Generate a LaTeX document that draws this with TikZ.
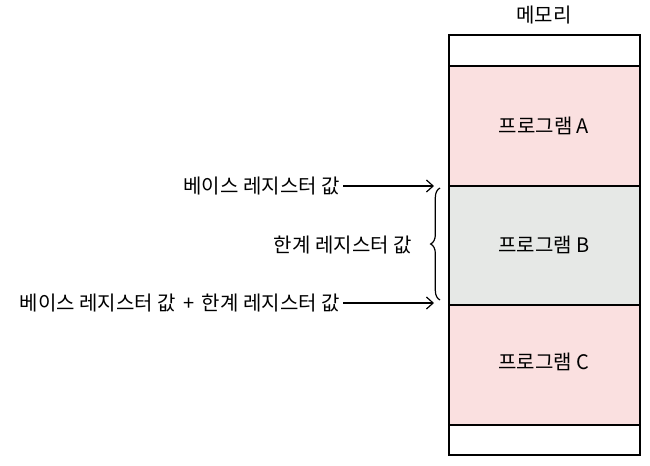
\documentclass[tikz,border=0pt]{standalone}
\usepackage{fontspec}
\setmainfont{Noto Sans CJK KR}
\usetikzlibrary{decorations.pathreplacing,arrows.meta}
\begin{document}
\begin{tikzpicture}[x=0.75pt,y=-0.75pt,
  seg/.style={draw=black,line width=1.2pt},
  lbl/.style={font=\fontsize{15}{17}\selectfont,inner sep=0pt},
  arr/.style={draw,line width=0.9pt,-{Straight Barb[length=5pt,width=9pt]}}]
\useasboundingbox (0,0) rectangle (650,465);
\fill[white] (0,0) rectangle (650,465);
\definecolor{pinkc}{RGB}{250,224,224}
\definecolor{grayc}{RGB}{230,232,230}
\draw[seg,fill=white] (449,35) rectangle (640,66);
\draw[seg,fill=pinkc] (449,66) rectangle (640,186);
\draw[seg,fill=grayc] (449,186) rectangle (640,305);
\draw[seg,fill=pinkc] (449,305) rectangle (640,425);
\draw[seg,fill=white] (449,425) rectangle (640,455);
\node[lbl] (mem) at (544,15) {메모리};
\node[lbl] (pa) at (544,126) {프로그램 A};
\node[lbl] (pb) at (544,245) {프로그램 B};
\node[lbl] (pc) at (544,362) {프로그램 C};
\node[lbl,anchor=east] (base) at (340,186) {베이스 레지스터 값};
\node[lbl,anchor=east] (lim) at (412,245) {한계 레지스터 값};
\node[lbl,anchor=east] (sum) at (340,303) {베이스 레지스터 값\hspace{0.15em} + \hspace{0.15em}한계 레지스터 값};
\coordinate (t1) at (434,186);
\coordinate (t2) at (434,303);
\draw[arr] (base.east) ++(3,0) -- (t1);
\draw[arr] (sum.east) ++(3,0) -- (t2);
\draw[line width=0.9pt,decorate,decoration={brace,amplitude=7pt}] (440,300) -- (440,188);
\end{tikzpicture}
\end{document}
